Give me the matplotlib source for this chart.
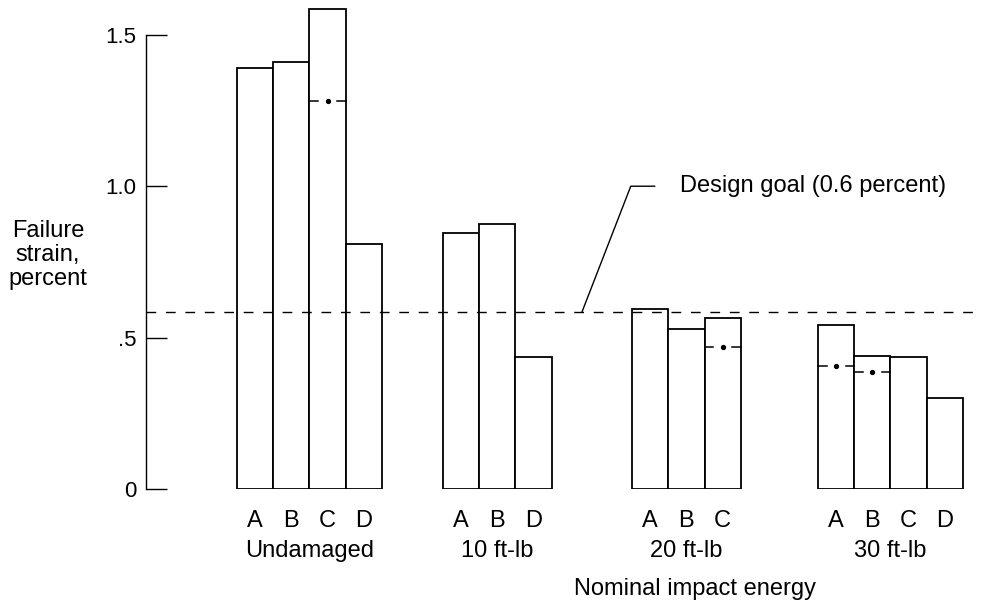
import numpy as np
import matplotlib.pyplot as plt

plt.rcParams['font.family'] = ['Liberation Sans', 'DejaVu Sans']

# Data
groups = ['Undamaged', '10 ft-lb', '20 ft-lb', '30 ft-lb']
letters = [['A', 'B', 'C', 'D'], ['A', 'B', 'D'], ['A', 'B', 'C'], ['A', 'B', 'C', 'D']]
strain = [[1.39, 1.41, 1.585, 0.81],
          [0.845, 0.875, 0.435],
          [0.595, 0.53, 0.565],
          [0.54, 0.44, 0.435, 0.30]]
# lower values shown as dash-dot marks inside some bars
strain_low = [[None, None, 1.28, None],
              [None, None, None],
              [None, None, 0.47],
              [0.405, 0.385, None, None]]
design_goal = 0.585

# layout
group_start = [0.0, 5.68, 10.9, 16.03]
bw = 1.0
fs = 17

fig = plt.figure(figsize=(9.81, 6.13), dpi=100)
ax = fig.add_axes([146 / 981, (613 - 489) / 613, (980 - 146) / 981, 489 / 613])
ax.set_xlim(-2.51, 20.5)
ax.set_ylim(0, 1.615)

for g, start in enumerate(group_start):
    xs = start + np.arange(len(strain[g])) * bw
    ax.bar(xs, strain[g], width=bw, align='edge', color='white',
           edgecolor='black', linewidth=1.3, zorder=2)
    for x, lab, low in zip(xs, letters[g], strain_low[g]):
        ax.text(x + bw / 2, -0.126, lab, ha='center', va='baseline', fontsize=fs)
        if low is not None:
            ax.plot([x, x + 0.24], [low, low], color='black', lw=1.1, zorder=3)
            ax.plot([x + bw - 0.24, x + bw], [low, low], color='black', lw=1.1, zorder=3)
            ax.plot(x + bw / 2, low, 'o', color='black', ms=2.8, zorder=3)
    ax.text(xs[0] + len(xs) * bw / 2, -0.225, groups[g], ha='center',
            va='baseline', fontsize=fs)

# design goal line
ax.plot([-2.51, 20.5], [design_goal, design_goal], color='black', lw=1.0,
        linestyle=(0, (7, 7)), zorder=4, clip_on=False)
ax.annotate('Design goal (0.6 percent)', xy=(9.52, design_goal), xytext=(12.22, 1.0),
            ha='left', va='center', fontsize=fs,
            arrowprops=dict(arrowstyle='-', lw=1.0, color='black', relpos=(0, 0.5),
                            shrinkA=16, shrinkB=0,
                            connectionstyle='angle,angleA=180,angleB=68.8,rad=0'))

ax.text(12.63, -0.35, 'Nominal impact energy', ha='center', va='baseline', fontsize=fs)
fig.text(48 / 981, 1 - 255 / 613, 'Failure\nstrain,\npercent', ha='center', va='center',
         fontsize=fs, linespacing=1.1)

# axes styling
for s in ['top', 'right', 'bottom']:
    ax.spines[s].set_visible(False)
ax.spines['left'].set_bounds(0, 1.5)
ax.spines['left'].set_linewidth(1.0)
ax.set_xticks([])
ax.set_yticks([0, 0.5, 1.0, 1.5])
ax.set_yticklabels(['0', '.5', '1.0', '1.5'], fontsize=16)
ax.tick_params(axis='y', direction='in', length=15, width=1.0, pad=7)

fig.savefig('out.png', dpi=100)
